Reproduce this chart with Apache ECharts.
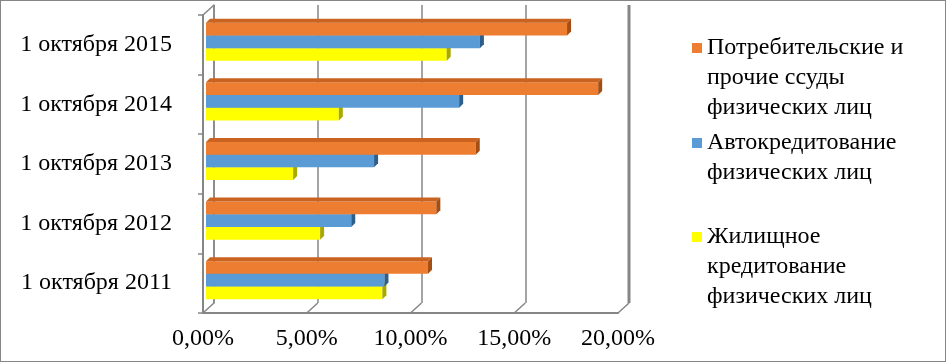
<!DOCTYPE html>
<html>
<head>
<meta charset="utf-8">
<script src="https://cdn.jsdelivr.net/npm/echarts@6/dist/echarts.min.js"></script>
<style>
  html, body { margin: 0; padding: 0; background: #fff; }
  #main { width: 946px; height: 362px; box-sizing: border-box; border: 1px solid #868686; }
</style>
</head>
<body>
<div id="main"></div>
<script>
// данные (в %)
var categories = ['1 октября 2011', '1 октября 2012', '1 октября 2013', '1 октября 2014', '1 октября 2015'];
var xTicks = [0, 5, 10, 15, 20];
var housing  = [8.5, 5.5, 4.2, 6.4, 11.6];   // Жилищное кредитование
var autoLoan = [8.6, 7.0, 8.1, 12.2, 13.2];  // Автокредитование
var consumer = [10.7, 11.1, 13.0, 18.9, 17.4]; // Потребительские ссуды

var nameConsumer = 'Потребительские и\nпрочие ссуды\nфизических лиц';
var nameAuto = 'Автокредитование\nфизических лиц';
var nameHousing = 'Жилищное\nкредитование\nфизических лиц';

var FONT = "'Liberation Serif', 'Times New Roman', Tinos, 'DejaVu Serif', serif";
var FS = 24;
var GRAY = '#868686';
var DX = 11, DY = 10; // глубина 3D стенки

function toPairs(arr) {
  return arr.map(function (v, i) { return [v, i]; });
}

function fmt(v) {
  return v.toFixed(2).replace('.', ',') + '%';
}

// пустые строки сверху, чтобы значок стоял напротив первой строки
function legendText(name) {
  var n = name.split('\n').length - 1;
  return new Array(n + 1).join('\n') + name;
}

// 3D брусок: k = 0 верхний (оранжевый), 1 синий, 2 жёлтый
function barRenderer(k, color, topColor, sideColor) {
  return function (params, api) {
    var cat = api.value(1);
    var p0 = api.coord([0, cat]);
    var p1 = api.coord([api.value(0), cat]);
    var band = api.size([0, 1])[1];
    var h = band * 0.213;
    var d = 4;
    var x0 = p0[0] + 3;
    var x1 = p1[0] + 3;
    var y = p0[1] - band * 0.37 + k * h;
    return {
      type: 'group',
      children: [
        { type: 'rect', shape: { x: x0, y: y, width: x1 - x0, height: h }, style: { fill: color } },
        { type: 'polygon', shape: { points: [[x0, y], [x1, y], [x1 + d, y - d], [x0 + d, y - d]] }, style: { fill: topColor } },
        { type: 'polygon', shape: { points: [[x1, y], [x1 + d, y - d], [x1 + d, y + h - d], [x1, y + h]] }, style: { fill: sideColor } }
      ]
    };
  };
}

function legendItem(name, top) {
  return {
    data: [name], left: 691, top: top, padding: 0, orient: 'vertical',
    icon: 'rect', itemWidth: 10, itemHeight: 10,
    formatter: legendText,
    textStyle: { fontFamily: FONT, fontSize: FS, color: '#000', lineHeight: 30 }
  };
}

var myEchart = echarts.init(document.getElementById('main'));

var option = {
  animation: false,
  legend: [
    legendItem(nameConsumer, -28),
    legendItem(nameAuto, 97),
    legendItem(nameHousing, 161)
  ],
  grid: [
    { left: 202, right: 327, top: 14, bottom: 48 },            // передняя плоскость
    { left: 202 + DX, right: 327 - DX, top: 14 - DY, bottom: 48 + DY } // задняя стенка
  ],
  xAxis: [
    {
      gridIndex: 0, type: 'value', min: 0, max: 20, interval: 5,
      axisLine: { show: true, lineStyle: { color: GRAY, width: 2 } },
      axisTick: { show: false },
      splitLine: { show: false },
      axisLabel: { formatter: fmt, fontFamily: FONT, fontSize: FS, color: '#000', margin: 14 }
    },
    {
      gridIndex: 1, type: 'value', min: 0, max: 20, interval: 5,
      axisLine: { show: false }, axisTick: { show: false }, axisLabel: { show: false },
      splitLine: { show: true, lineStyle: { color: GRAY, width: 1.5 } }
    }
  ],
  yAxis: [
    {
      gridIndex: 0, type: 'category', data: categories,
      axisLine: { show: true, lineStyle: { color: GRAY, width: 2 } },
      axisTick: { show: true, length: 5, lineStyle: { color: GRAY, width: 1.5 } },
      axisLabel: { fontFamily: FONT, fontSize: FS, color: '#000', margin: 31 }
    },
    {
      gridIndex: 1, type: 'category', data: categories,
      axisLine: { show: true, lineStyle: { color: GRAY, width: 1.5 } },
      axisTick: { show: false }, axisLabel: { show: false }
    }
  ],
  series: [
    {
      // рамка: диагонали пола и правая стенка
      type: 'custom', xAxisIndex: 0, yAxisIndex: 0, silent: true, z: 1,
      data: xTicks.map(function (v) { return [v]; }),
      encode: { x: 0 },
      renderItem: function (params, api) {
        var v = api.value(0);
        var band = api.size([0, 1])[1];
        var pb = api.coord([v, 0]);
        var yb = pb[1] + band / 2;
        var children = [
          { type: 'line', shape: { x1: pb[0], y1: yb, x2: pb[0] + DX, y2: yb - DY }, style: { stroke: GRAY, lineWidth: 1.5 } }
        ];
        if (v === xTicks[0]) {
          var pt = api.coord([v, categories.length - 1]);
          var yt = pt[1] - band / 2;
          children.push({ type: 'line', shape: { x1: pt[0], y1: yt, x2: pt[0] + DX, y2: yt - DY }, style: { stroke: GRAY, lineWidth: 1.5 } });
        }
        if (v === xTicks[xTicks.length - 1]) {
          var pr = api.coord([v, categories.length - 1]);
          var yr = pr[1] - band / 2;
          children.push({ type: 'line', shape: { x1: pb[0] + DX, y1: yb - DY, x2: pr[0] + DX, y2: yr - DY }, style: { stroke: GRAY, lineWidth: 3 } });
        }
        return { type: 'group', children: children };
      }
    },
    {
      name: nameConsumer, type: 'custom', xAxisIndex: 0, yAxisIndex: 0, z: 4,
      itemStyle: { color: '#ED7D31' },
      data: toPairs(consumer), encode: { x: 0, y: 1 },
      renderItem: barRenderer(0, '#ED7D31', '#C9631F', '#A54E14')
    },
    {
      name: nameAuto, type: 'custom', xAxisIndex: 0, yAxisIndex: 0, z: 3,
      itemStyle: { color: '#5B9BD5' },
      data: toPairs(autoLoan), encode: { x: 0, y: 1 },
      renderItem: barRenderer(1, '#5B9BD5', '#447FB5', '#2E5F8C')
    },
    {
      name: nameHousing, type: 'custom', xAxisIndex: 0, yAxisIndex: 0, z: 2,
      itemStyle: { color: '#FFFF00' },
      data: toPairs(housing), encode: { x: 0, y: 1 },
      renderItem: barRenderer(2, '#FFFF00', '#D6D600', '#A8A800')
    }
  ]
};
myEchart.setOption(option);
</script>
</body>
</html>
